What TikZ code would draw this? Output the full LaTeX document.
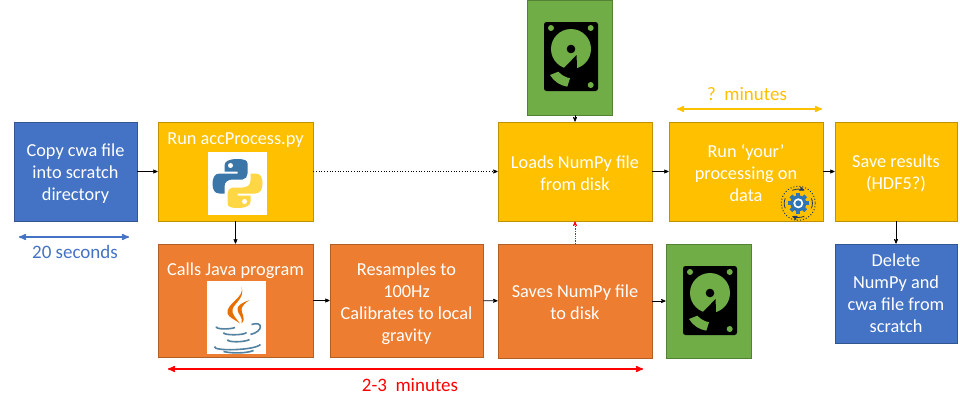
\documentclass[tikz,border=0pt]{standalone}
\usepackage{fontspec}
\setmainfont{Carlito}
\usetikzlibrary{arrows}
\definecolor{boxyellow}{HTML}{FFC000}
\definecolor{boxorange}{HTML}{ED7D31}
\definecolor{boxblue}{HTML}{4472C4}
\definecolor{boxgreen}{HTML}{70AD47}
\definecolor{pyblue}{HTML}{3A76A8}
\definecolor{pyyellow}{HTML}{FFD745}
\definecolor{javablue}{HTML}{5382A1}
\definecolor{javaorange}{HTML}{E76F00}
\definecolor{gearnavy}{HTML}{1F3864}
\definecolor{gearblue}{HTML}{2E75B6}
\newcommand{\linepad}[1]{\rule{0pt}{#1pt}}
\tikzset{
  step box/.style={draw=#1!75!black,fill=#1,line width=0.7pt,inner sep=0pt,align=center,
    text=white,font=\fontsize{18.3}{22}\selectfont},
  box title/.style={text=white,font=\fontsize{18.3}{22}\selectfont,inner sep=0pt},
  disk box/.style={draw=boxgreen!75!black,fill=boxgreen,line width=0.7pt,inner sep=0pt},
  span label/.style={font=\fontsize{19}{22}\selectfont,inner sep=0pt},
  span arrow/.style={<->,>=stealth',line width=1.5pt},
  flow/.style={->,>=stealth',line width=0.7pt},
  disk icon/.pic={
    \fill[black,rounded corners=2.5pt] (-27,-34.5) rectangle (27,34.5);
    \fill[boxgreen] (0,-7.5) circle (20);
    \fill[black] (0,-7.5) circle (4.3);
    \fill[black] (5.6,-1.5) -- (-8,12.5) -- (6,14) -- cycle;
    \fill[boxgreen] (-20,-28.5) circle (3);
    \fill[boxgreen] (19.7,-28.5) circle (3);
    \fill[boxgreen] (19.7,28.5) circle (3);
    \fill[boxgreen] (-21,18.5) -- (-12.7,15.2) .. controls (-9,19) and (-5,21) .. (-1,21.8)
      -- (-3.7,30.2) .. controls (-11,29) and (-17,25) .. cycle;
  },
  snake half/.pic={
    \fill[#1] (10,-20) .. controls (10,-23) and (7,-24.5) .. (0,-24.5)
      .. controls (-9,-24.5) and (-13,-22) .. (-13,-18) -- (-13,-12) -- (0,-12) -- (0,-10)
      -- (-18,-10) .. controls (-23,-10) and (-25,-5) .. (-25,0)
      .. controls (-25,6) and (-23,10) .. (-18,10) -- (-13,10) -- (-13,3)
      .. controls (-13,-2) and (-9,-4) .. (-5,-4) -- (5,-4)
      .. controls (8,-4) and (10,-7) .. (10,-10) -- cycle;
    \fill[white] (-7,-18) circle (2.5);
  },
  python logo/.pic={
    \pic {snake half=pyblue};
    \pic[rotate=180] {snake half=pyyellow};
  },
  java logo/.pic={
    \fill[javaorange] (5,-31) .. controls (9,-20) and (-11,-14) .. (-9,-4)
      .. controls (-8,0) and (0,3) .. (3.5,6) .. controls (0,1) and (-5,-3) .. (-4,-8)
      .. controls (-3,-14) and (9,-19) .. cycle;
    \fill[javaorange] (13,-17.5) .. controls (6,-15) and (0,-12) .. (1,-7.5)
      .. controls (1.5,-3) and (7,0) .. (5,6) .. controls (10,1) and (5,-4) .. (5,-8)
      .. controls (5,-11) and (9,-15) .. cycle;
    \begin{scope}[javablue,line width=1.6pt]
      \draw (-20,9) .. controls (-22,12) and (-6,12) .. (-1.5,10);
      \draw (-13,15) .. controls (-14,18) and (8,18) .. (10,15);
      \draw (-9,22) .. controls (-10,25) and (8,25) .. (13,22);
      \draw (-22,29) .. controls (-24,34) and (18,33) .. (24,27);
      \draw (-13,34) .. controls (-5,36) and (10,36) .. (17,33);
      \draw (15,7) .. controls (27,3) and (27,14) .. (14,17);
    \end{scope}
  },
  gear icon/.pic={
    \draw[gearnavy,line width=1pt,dotted] (0,0) circle (17);
    \foreach \a in {0,45,...,315}
      \fill[gearblue,rotate=\a] (-2,-10.5) rectangle (2,-6);
    \fill[gearblue] (0,0) circle (8);
    \fill[white] (0,0) circle (5);
    \fill[gearblue] (0,0) circle (3);
    \draw[gearnavy,line width=0.8pt,->,>=stealth'] (-6,-13) .. controls (-2,-14.5) and (2,-14.5) .. (6,-13);
    \draw[gearnavy,line width=0.8pt,->,>=stealth'] (6,13) .. controls (2,14.5) and (-2,14.5) .. (-6,13);
    \draw[gearnavy,line width=0.8pt] (-13,-5) .. controls (-14.5,-2) and (-14.5,2) .. (-13,5);
    \draw[gearnavy,line width=0.8pt] (13,-5) .. controls (14.5,-2) and (14.5,2) .. (13,5);
  }
}
\begin{document}
\begin{tikzpicture}[x=1pt,y=-1pt]
  \useasboundingbox (0,0) rectangle (960,407);
  % top row
  \node [step box=boxblue,minimum width=123pt,minimum height=99pt] (copy) at (75.5,171.5)
    {\linepad{17.5}Copy cwa file\\into scratch\\directory};
  \node [step box=boxyellow,minimum width=155pt,minimum height=99pt] (run) at (235.5,171.5) {};
  \node [box title] (runtext) at (235.5,140) {Run accProcess.py};
  \node [step box=boxyellow,minimum width=154pt,minimum height=99pt] (loads) at (575,171.5)
    {\linepad{15.5}Loads NumPy file\\from disk};
  \node [step box=boxyellow,minimum width=154pt,minimum height=99pt] (yours) at (746,171.5)
    {\linepad{16.5}Run ‘your’\\processing on\\data};
  \node [step box=boxyellow,minimum width=122pt,minimum height=99pt] (results) at (896,171.5)
    {\linepad{17.5}Save results\\(HDF5?)};
  % bottom row
  \node [step box=boxorange,minimum width=155pt,minimum height=113pt] (calls) at (235.5,300.5) {};
  \node [box title] (callstext) at (235.5,271) {Calls Java program};
  \node [step box=boxorange,minimum width=153pt,minimum height=113pt] (resample) at (406.5,300.5)
    {\linepad{19.5}Resamples to\\100Hz\\Calibrates to local\\gravity};
  \node [step box=boxorange,minimum width=154pt,minimum height=114pt] (saves) at (575,301)
    {\linepad{15.5}Saves NumPy file\\to disk};
  \node [step box=boxblue,minimum width=122pt,minimum height=99pt] (delete) at (896,293.5)
    {Delete\\NumPy and\\cwa file from\\scratch};
  % disks
  \node [disk box,minimum width=85pt,minimum height=115pt] (disktop) at (569.5,57.5) {};
  \node [disk box,minimum width=85pt,minimum height=114pt] (diskright) at (708.5,301) {};
  \pic at (571,56.5) {disk icon};
  \pic at (710,300.5) {disk icon};
  % logos
  \node [fill=white,minimum width=59pt,minimum height=63pt,inner sep=0pt] (pybox) at (237.5,183.5) {};
  \pic at (237.5,183.5) {python logo};
  \node [fill=white,minimum width=59pt,minimum height=73pt,inner sep=0pt] (javabox) at (236.5,317.5) {};
  \pic at (236.5,317.5) {java logo};
  \pic at (798.3,203.3) {gear icon};
  % connectors
  \draw [flow] (copy) -- (run);
  \draw [flow] (run) -- (calls);
  \draw [flow,dotted] (run) -- (loads);
  \draw [flow] (calls) -- (resample);
  \draw [flow] (resample) -- (saves);
  \draw [flow,densely dotted,red] (saves) -- (loads);
  \draw [flow] (saves.east) -- (diskright.west |- saves.east);
  \draw [flow] (disktop.south -| loads.north) -- (loads.north);
  \draw [flow] (loads) -- (yours);
  \draw [flow] (yours) -- (results);
  \draw [flow] (results) -- (delete);
  % time spans
  \coordinate (blueleft) at (19,237);
  \coordinate (blueright) at (129,237);
  \coordinate (yellowleft) at (677,109);
  \coordinate (yellowright) at (822,109);
  \coordinate (redleft) at (168,369);
  \coordinate (redright) at (643,369);
  \draw [span arrow,boxblue] (blueleft) -- (blueright);
  \draw [span arrow,boxyellow] (yellowleft) -- (yellowright);
  \draw [span arrow,red] (redleft) -- (redright);
  \node [span label,text=boxblue] (bluelabel) at (75,252) {20 seconds};
  \node [span label,text=boxyellow] (yellowlabel) at (747,94) {?\ \ minutes};
  \node [span label,text=red] (redlabel) at (410,385) {2-3\ \ minutes};
\end{tikzpicture}
\end{document}
